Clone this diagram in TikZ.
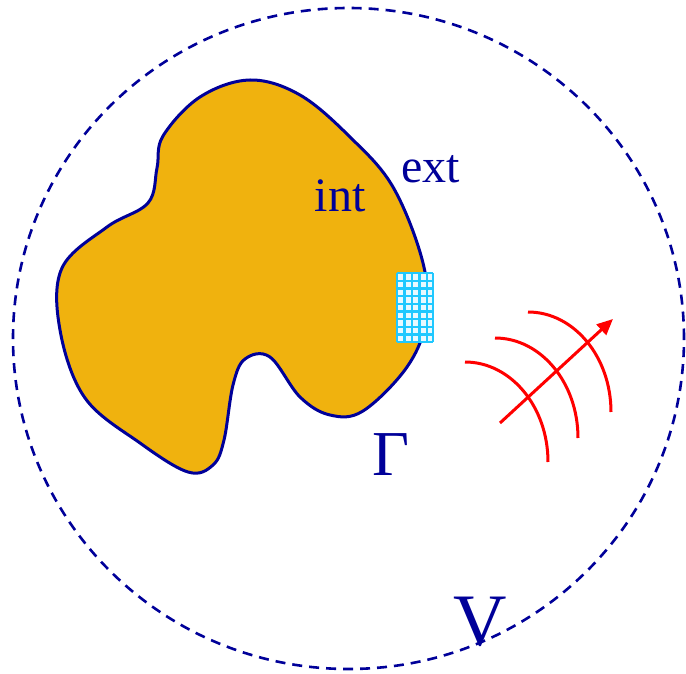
\documentclass[tikz,border=0pt]{standalone}
\usepackage{fontspec}
\setmainfont{Liberation Serif}
\usepackage{tikz}
\usepackage{xcolor}
\usetikzlibrary{arrows.meta}
\definecolor{gold}{HTML}{F0B20E}
\definecolor{navy}{HTML}{000099}
\definecolor{meshcyan}{HTML}{20C8FF}

\begin{document}
\begin{tikzpicture}[x=0.5pt,y=-0.5pt,>={Triangle[length=8pt,width=7pt]},
 every node/.style={text=navy,inner sep=0pt},
 lbl/.style={font=\fontsize{24}{28}\selectfont,anchor=base},
 wave/.style={red,line width=1.5pt}]
    \useasboundingbox (0,0) rectangle (686,674);
    % domain V
    \draw[navy,line width=1.3pt,dash pattern=on 5pt off 3.5pt]
        (348.5,338.5) ellipse [x radius=167.75pt,y radius=165.25pt];
    % obstacle
    \draw[navy,line width=1.5pt,fill=gold] plot[smooth cycle,tension=0.6] coordinates {
        (250,80) (300,95) (350,137) (393,187) (423,263) (426,320) (407,367)
        (363,411) (330,415) (300,397) (270,357) (245,359) (233,385)
        (224,440) (213,465) (188,472) (140,443) (85,398) (60,330)
        (62,268) (107,227) (148,203) (157,168) (163,136) (200,97)};
    % mesh patch on the boundary
    \fill[meshcyan!10] (397,273) rectangle (433,342);
    \foreach \gx in {397,404.5,412,419.5,427,433}
        \draw[meshcyan,line width=1.2pt] (\gx,273) -- (\gx,342);
    \foreach \gy in {273,280.7,288.3,296,303.7,311.3,319,326.7,334.3,342}
        \draw[meshcyan,line width=1.2pt] (397,\gy) -- (433,\gy);
    % outgoing waves
    \draw[wave] (465,362) arc[start angle=90,end angle=0,x radius=41.5pt,y radius=50pt];
    \draw[wave] (495,338) arc[start angle=90,end angle=0,x radius=41.5pt,y radius=50pt];
    \draw[wave] (528,312) arc[start angle=90,end angle=0,x radius=41.5pt,y radius=50pt];
    \coordinate (src) at (500,423);
    \coordinate (dir) at (613,319);
    \draw[wave,->] (src) -- (dir);
    % labels
    \node[lbl] (int) at (340,212) {int};
    \node[lbl] (ext) at (431,183) {ext};
    \node[lbl,font=\fontsize{32}{36}\selectfont] (gamma) at (391,475) {Γ};
    \node[lbl,font=\fontsize{37}{42}\selectfont] (vol) at (480,645) {V};
\end{tikzpicture}
\end{document}
